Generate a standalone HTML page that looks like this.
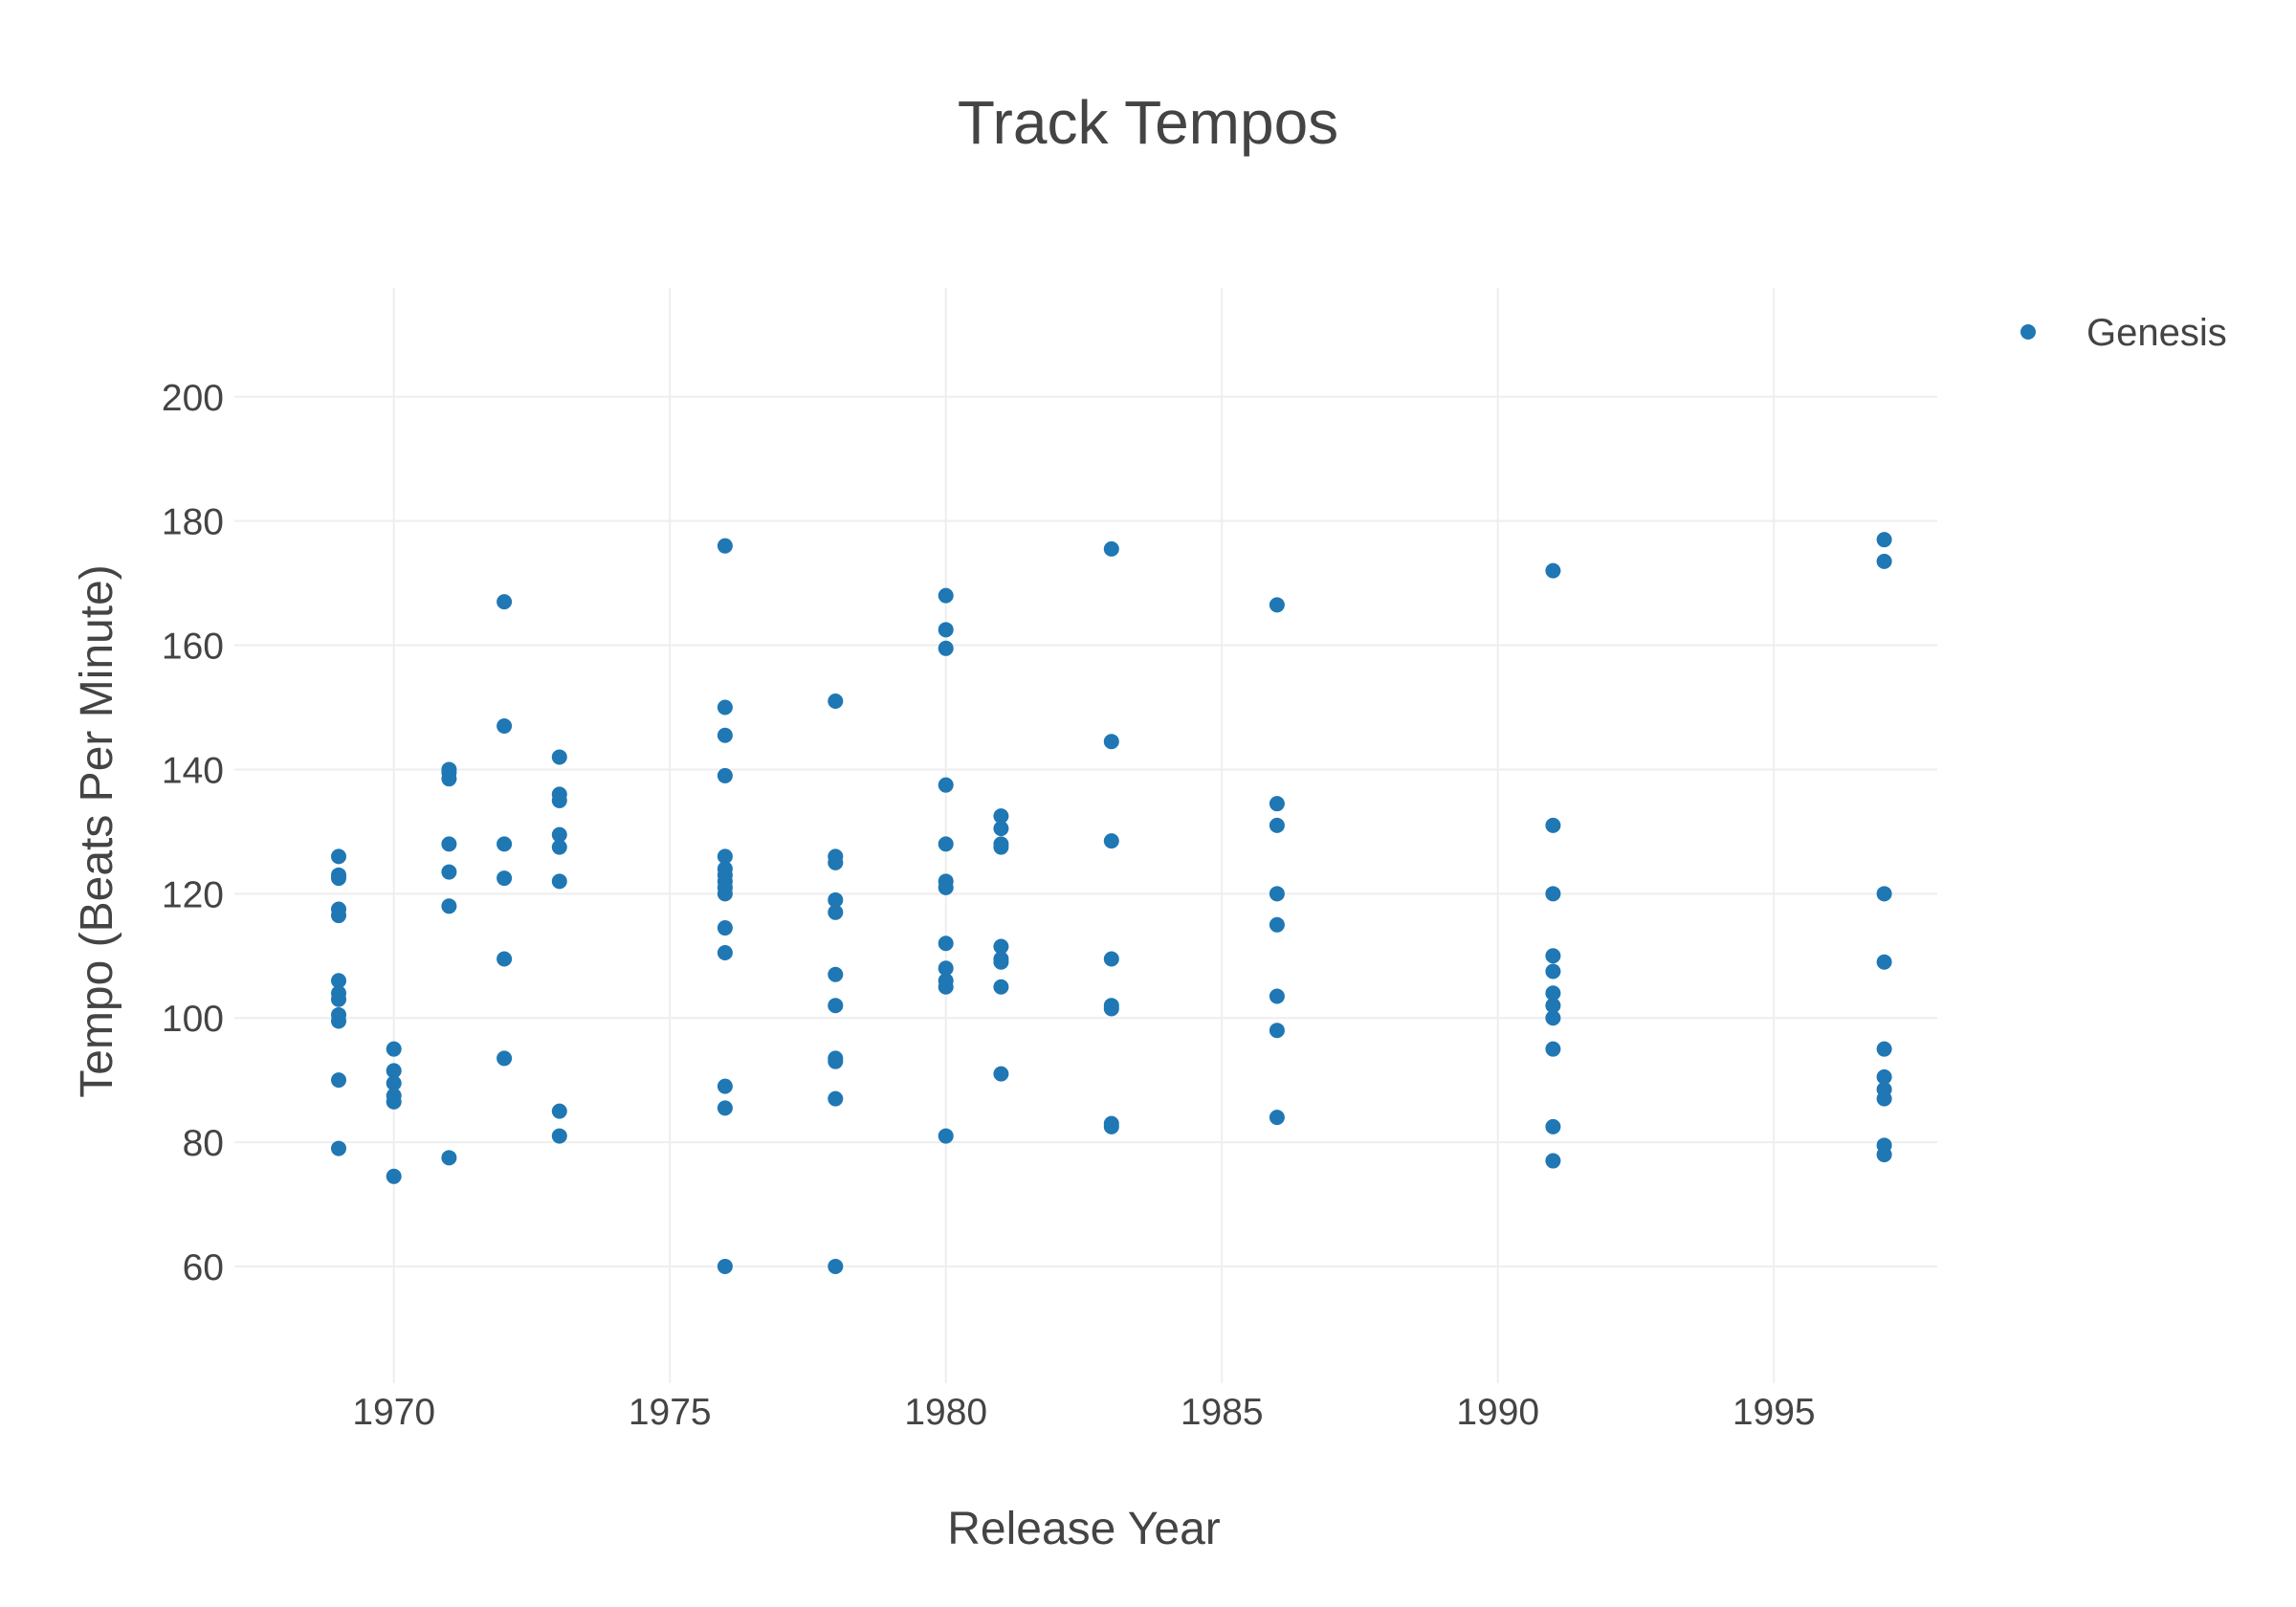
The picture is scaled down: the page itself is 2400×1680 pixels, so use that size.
<!DOCTYPE html>
<html><head><meta charset="utf-8"><style>
html,body{margin:0;padding:0;background:#fff;}
svg{display:block;font-family:"Liberation Sans","DejaVu Sans",sans-serif;}
</style></head><body>
<svg id="chart" width="2400" height="1680" viewBox="0 0 2400 1680" xmlns="http://www.w3.org/2000/svg">
<rect x="0" y="0" width="2400" height="1680" fill="#fff"/>
<g id="grid"></g>
<g id="xticks"></g>
<g id="yticks"></g>
<g id="points"></g>
<text x="1200" y="150" text-anchor="middle" font-size="64" fill="#444">Track Tempos</text>
<text x="1133" y="1614" text-anchor="middle" font-size="48" fill="#444">Release Year</text>
<text x="0" y="0" transform="translate(117,869) rotate(-90)" text-anchor="middle" font-size="48" fill="#444">Tempo (Beats Per Minute)</text>
<g>
<circle cx="2120" cy="347" r="8" fill="#1f77b4"/>
<text x="2181" y="361" font-size="40" fill="#444">Genesis</text>
</g>
</svg>
<script>
const years = [1969, 1970, 1971, 1972, 1973, 1976, 1978, 1980, 1981, 1983, 1986, 1991, 1997];
const tempos = [
  [126, 123, 122.5, 117.5, 116.5, 106, 104, 103, 100.5, 99.5, 90, 79],
  [95, 91.5, 89.5, 87.5, 86.5, 74.5],
  [140, 139.5, 138.5, 128, 123.5, 118, 77.5],
  [167, 147, 128, 122.5, 109.5, 93.5],
  [142, 136, 135, 129.5, 127.5, 122, 85, 81],
  [176, 150, 145.5, 139, 126, 124, 123, 122, 121, 120, 114.5, 110.5, 89, 85.5, 60],
  [151, 126, 125, 119, 117, 107, 102, 93.5, 93, 87, 60],
  [168, 162.5, 159.5, 137.5, 128, 122, 121, 112, 108, 106, 105, 81],
  [132.5, 130.5, 128, 127.5, 111.5, 109.5, 109, 105, 91],
  [175.5, 144.5, 128.5, 109.5, 102, 101.5, 83, 82.5],
  [166.5, 134.5, 131, 120, 115, 103.5, 98, 84],
  [172, 131, 120, 110, 107.5, 104, 102, 100, 95, 82.5, 77],
  [177, 173.5, 120, 109, 95, 90.5, 88.5, 87, 79.5, 78]
];
const xTickValues = [1970, 1975, 1980, 1985, 1990, 1995];
const yTickValues = [60, 80, 100, 120, 140, 160, 180, 200];

const NS = "http://www.w3.org/2000/svg";
const plotLeft = 245, plotRight = 2025, plotTop = 301, plotBottom = 1446;
function xScale(v){ return 411.7 + (v - 1970) * 57.7; }
function yScale(v){ return 414.8 + (200 - v) * 6.494; }

const grid = document.getElementById('grid');
const xt = document.getElementById('xticks');
const yt = document.getElementById('yticks');
const pts = document.getElementById('points');

xTickValues.forEach(v => {
  const l = document.createElementNS(NS, 'line');
  
  
  l.setAttribute('x1', xScale(v)); l.setAttribute('x2', xScale(v));
  l.setAttribute('y1', plotTop); l.setAttribute('y2', plotBottom);
  l.setAttribute('stroke', '#eeeeee'); l.setAttribute('stroke-width', '2');
  grid.appendChild(l);
  const t = document.createElementNS(NS, 'text');
  
  
  t.setAttribute('x', xScale(v)); t.setAttribute('y', 1489);
  t.setAttribute('text-anchor', 'middle'); t.setAttribute('font-size', '39'); t.setAttribute('fill', '#444');
  t.textContent = v;
  xt.appendChild(t);
});
yTickValues.forEach(v => {
  const l = document.createElementNS(NS, 'line');
  
  
  l.setAttribute('x1', plotLeft); l.setAttribute('x2', plotRight);
  l.setAttribute('y1', yScale(v)); l.setAttribute('y2', yScale(v));
  l.setAttribute('stroke', '#eeeeee'); l.setAttribute('stroke-width', '2');
  grid.appendChild(l);
  const t = document.createElementNS(NS, 'text');
  
  
  t.setAttribute('x', 234); t.setAttribute('y', yScale(v) + 14);
  t.setAttribute('text-anchor', 'end'); t.setAttribute('font-size', '39'); t.setAttribute('fill', '#444');
  t.textContent = v;
  yt.appendChild(t);
});
years.forEach((yr, i) => {
  tempos[i].forEach(tp => {
    const c = document.createElementNS(NS, 'circle');
    
    
    c.setAttribute('cx', xScale(yr)); c.setAttribute('cy', yScale(tp));
    c.setAttribute('r', '8'); c.setAttribute('fill', '#1f77b4');
    pts.appendChild(c);
  });
});
</script>
</body></html>
